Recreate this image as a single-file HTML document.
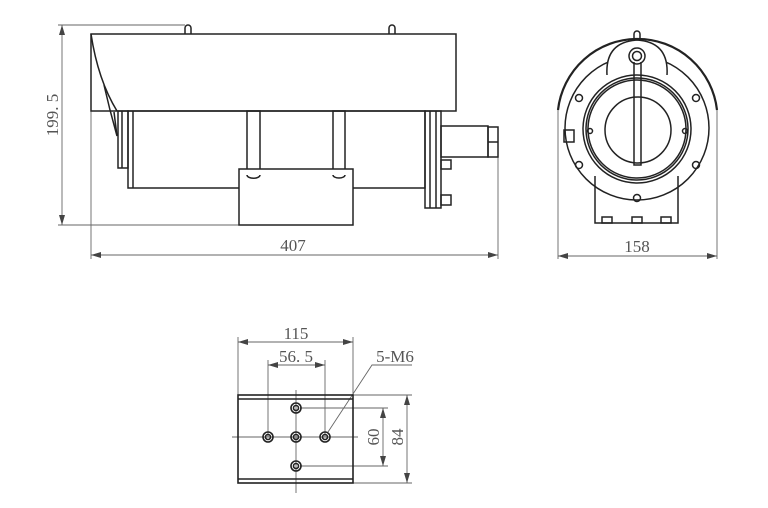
<!DOCTYPE html>
<html><head><meta charset="utf-8"><style>html,body{margin:0;padding:0;background:#fff}svg{display:block}</style></head><body>
<svg width="768" height="508" viewBox="0 0 768 508" xmlns="http://www.w3.org/2000/svg" font-family="'Liberation Serif',serif" font-size="17" fill="none" stroke="#222" stroke-width="1.5">
<defs><marker id="a" markerWidth="10" markerHeight="6" refX="10" refY="3" orient="auto-start-reverse" markerUnits="userSpaceOnUse"><path d="M0,0 L10,3 L0,6 z" fill="#444" stroke="none"/></marker></defs>
<g stroke="#666" stroke-width="0.9">
<line x1="58" y1="25" x2="185" y2="25"/><line x1="58" y1="225" x2="240" y2="225"/>
<line x1="62" y1="25" x2="62" y2="225" marker-start="url(#a)" marker-end="url(#a)"/>
<line x1="91" y1="34" x2="91" y2="259"/><line x1="498" y1="157" x2="498" y2="259"/>
<line x1="91" y1="255" x2="498" y2="255" marker-start="url(#a)" marker-end="url(#a)"/>
</g>
<g fill="#555" stroke="none"><text x="293" y="251" text-anchor="middle">407</text>
<text transform="translate(58,115) rotate(-90)" text-anchor="middle">199. 5</text></g>
<path d="M185,34 v-6 a3,3 0 0 1 6,0 v6 M389,34 v-6 a3,3 0 0 1 6,0 v6"/>
<rect x="91" y="34" width="365" height="77"/>
<path d="M91,34 Q98,80 117,111"/>
<path d="M104,85 L110,110 L117,136 L114,112"/>
<rect x="118" y="111" width="10" height="57"/><line x1="122" y1="111" x2="122" y2="168"/>
<rect x="128" y="111" width="297" height="77"/><line x1="133" y1="111" x2="133" y2="188"/>
<rect x="247" y="111" width="13" height="64"/><rect x="333" y="111" width="12" height="64"/>
<rect x="239" y="169" width="114" height="56" fill="#fff"/>
<path d="M247,175 a6,3 0 0 0 13,0 M333,175 a6,3 0 0 0 12,0"/>
<rect x="425" y="111" width="16" height="97"/><line x1="430" y1="111" x2="430" y2="208"/><line x1="436" y1="111" x2="436" y2="208"/>
<rect x="441" y="160" width="10" height="9"/><rect x="441" y="195" width="10" height="10"/>
<rect x="441" y="126" width="47" height="31"/><rect x="488" y="127" width="10" height="30"/><line x1="488" y1="142" x2="498" y2="142"/>
<g stroke="#666" stroke-width="0.9">
<line x1="558" y1="110" x2="558" y2="259"/><line x1="717" y1="110" x2="717" y2="259"/>
<line x1="558" y1="256" x2="717" y2="256" marker-start="url(#a)" marker-end="url(#a)"/></g>
<text x="637" y="252" text-anchor="middle" fill="#555" stroke="none">158</text>
<path d="M558,110 A80,80 0 0 1 717,110" stroke-width="2.2"/>
<circle cx="637" cy="128" r="72"/>
<path d="M607,75 Q605,42 637,40 Q669,42 667,75" fill="#fff"/>
<path d="M634,40 v-6 a3,3 0 0 1 6,0 v6"/>
<circle cx="637" cy="129" r="54" fill="#fff"/><circle cx="637" cy="129" r="51"/><circle cx="637" cy="129" r="49"/>
<circle cx="638" cy="130" r="33"/>
<circle cx="637" cy="56" r="8" fill="#fff"/><circle cx="637" cy="56" r="4.5"/>
<path d="M634,62 L634,165 L641,165 L641,62"/>
<circle cx="579" cy="98" r="3.5"/><circle cx="696" cy="98" r="3.5"/><circle cx="579" cy="165" r="3.5"/><circle cx="696" cy="165" r="3.5"/>
<circle cx="590" cy="131" r="2.5"/><circle cx="685" cy="131" r="2.5"/><circle cx="637" cy="198" r="3.5"/>
<rect x="564" y="130" width="10" height="12"/>
<path d="M595,176 L595,223 L678,223 L678,176"/>
<rect x="602" y="217" width="10" height="6"/><rect x="632" y="217" width="10" height="6"/><rect x="661" y="217" width="10" height="6"/>
<g stroke="#666" stroke-width="0.9">
<line x1="238" y1="337" x2="238" y2="395"/><line x1="353" y1="337" x2="353" y2="395"/>
<line x1="238" y1="342" x2="353" y2="342" marker-start="url(#a)" marker-end="url(#a)"/>
<line x1="268" y1="360" x2="268" y2="437"/><line x1="325" y1="360" x2="325" y2="437"/>
<line x1="268" y1="365" x2="325" y2="365" marker-start="url(#a)" marker-end="url(#a)"/>
<line x1="232" y1="437" x2="358" y2="437"/><line x1="296" y1="390" x2="296" y2="493"/>
<line x1="300" y1="408" x2="388" y2="408"/><line x1="300" y1="466" x2="388" y2="466"/>
<line x1="383" y1="408" x2="383" y2="466" marker-start="url(#a)" marker-end="url(#a)"/>
<line x1="353" y1="395" x2="412" y2="395"/><line x1="353" y1="483" x2="412" y2="483"/>
<line x1="407" y1="395" x2="407" y2="483" marker-start="url(#a)" marker-end="url(#a)"/>
<polyline points="328,432 372,365 412,365"/></g>
<g fill="#555" stroke="none">
<text x="296" y="339" text-anchor="middle">115</text><text x="296" y="362" text-anchor="middle">56. 5</text>
<text x="395" y="362" text-anchor="middle">5-M6</text>
<text transform="translate(379,437) rotate(-90)" text-anchor="middle">60</text>
<text transform="translate(403,437) rotate(-90)" text-anchor="middle">84</text></g>
<rect x="238" y="395" width="115" height="88" stroke-width="1.6"/>
<line x1="238" y1="399" x2="353" y2="399" stroke-width="1.6"/><line x1="238" y1="479" x2="353" y2="479" stroke-width="1.6"/>
<g stroke-width="1.6">
<circle cx="296" cy="408" r="5"/><circle cx="296" cy="408" r="2.5"/>
<circle cx="268" cy="437" r="5"/><circle cx="268" cy="437" r="2.5"/>
<circle cx="296" cy="437" r="5"/><circle cx="296" cy="437" r="2.5"/>
<circle cx="325" cy="437" r="5"/><circle cx="325" cy="437" r="2.5"/>
<circle cx="296" cy="466" r="5"/><circle cx="296" cy="466" r="2.5"/></g>
</svg>
</body></html>
